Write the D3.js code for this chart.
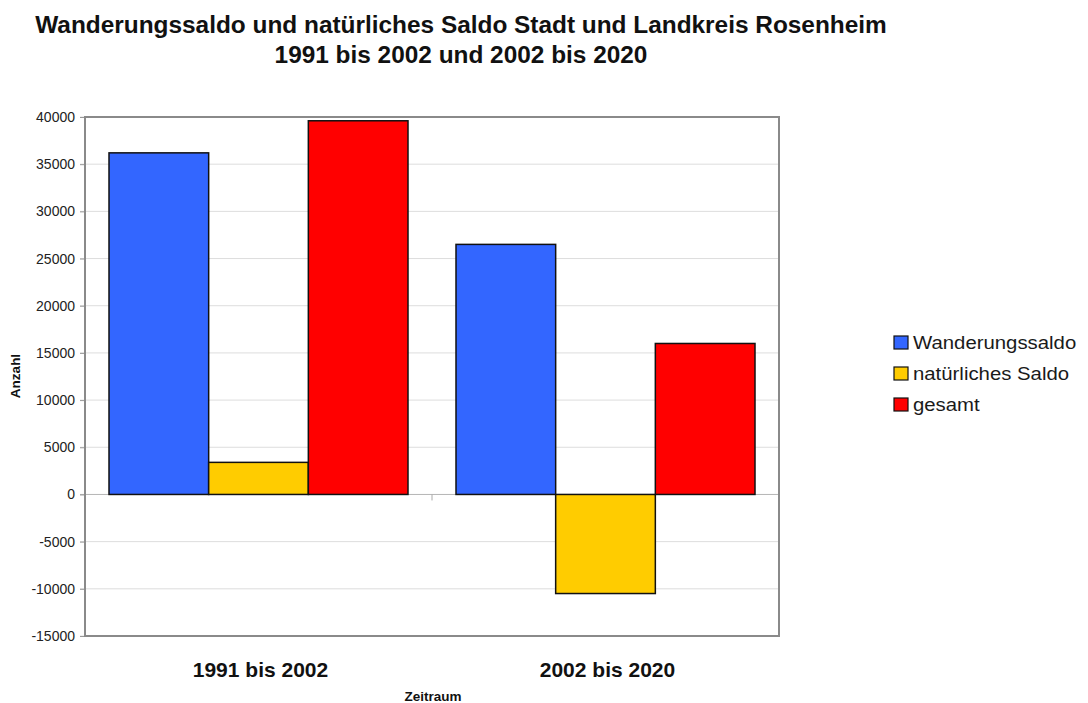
<!DOCTYPE html>
<html><head><meta charset="utf-8">
<script src="https://cdn.jsdelivr.net/npm/d3@7"></script>
<style>body{margin:0;background:#fff;} svg{display:block;font-family:"Liberation Sans",Arial,sans-serif;}</style>
</head><body>
<svg id="c" width="1088" height="703"></svg>
<script>
const categories = ["1991 bis 2002", "2002 bis 2020"];
const seriesNames = ["Wanderungssaldo", "natürliches Saldo", "gesamt"];
const wanderungssaldo = [36200, 26500];
const natuerlichesSaldo = [3400, -10500];
const gesamt = [39600, 16000];
const yTicks = [-15000, -10000, -5000, 0, 5000, 10000, 15000, 20000, 25000, 30000, 35000, 40000];
const colors = ["#3366FF", "#FFCC00", "#FF0000"];

const seriesValues = [wanderungssaldo, natuerlichesSaldo, gesamt];
const data = categories.map((c, i) => ({cat: c, vals: seriesNames.map((s, j) => ({s, v: seriesValues[j][i], j}))}));

const svg = d3.select("#c");
const L = 85, R = 779, T = 117, B = 636;

const y = d3.scaleLinear().domain([-15000, 40000]).range([B, T]);
const x0 = d3.scaleBand().domain(categories).range([L, R]);
const x1 = d3.scaleBand().domain(seriesNames).range([24, x0.bandwidth() - 24]);

// title
const title = svg.append("g").attr("font-weight", "bold").attr("font-size", 24.4).attr("fill", "#111").attr("text-anchor", "middle");
title.append("text").attr("x", 461).attr("y", 33).text("Wanderungssaldo und natürliches Saldo Stadt und Landkreis Rosenheim");
title.append("text").attr("x", 461).attr("y", 63).text("1991 bis 2002 und 2002 bis 2020");

// gridlines
svg.append("g").selectAll("line").data(yTicks).join("line")
  .attr("x1", L - 5).attr("x2", R).attr("y1", d => y(d)).attr("y2", d => y(d))
  .attr("stroke", d => d === 0 ? "#b5b5b5" : "#dddddd").attr("stroke-width", 1);

// y axis labels
const yAxis = svg.append("g").attr("transform", `translate(${L},0)`)
  .call(d3.axisLeft(y).tickValues(yTicks).tickSize(5).tickPadding(5).tickFormat(d => String(d)));
yAxis.select(".domain").remove();
yAxis.selectAll("line").attr("stroke", "#999");
yAxis.selectAll("text").attr("font-size", 14).attr("fill", "#222").attr("font-family", "Liberation Sans, Arial, sans-serif");

// bars
const g = svg.append("g").selectAll("g").data(data).join("g").attr("transform", d => `translate(${x0(d.cat)},0)`);
g.selectAll("rect").data(d => d.vals).join("rect")
  .attr("x", d => x1(d.s)).attr("width", x1.bandwidth())
  .attr("y", d => y(Math.max(0, d.v))).attr("height", d => Math.abs(y(d.v) - y(0)))
  .attr("fill", d => colors[d.j]).attr("stroke", "#111").attr("stroke-width", 1.5);

// category tick at zero line
svg.append("line").attr("x1", x0(categories[1])).attr("x2", x0(categories[1]))
  .attr("y1", y(0)).attr("y2", y(0) + 6).attr("stroke", "#aaa");

// plot border
svg.append("rect").attr("x", L).attr("y", T).attr("width", R - L).attr("height", B - T)
  .attr("fill", "none").attr("stroke", "#8a8a8a").attr("stroke-width", 2);

// category labels
svg.append("g").selectAll("text").data(categories).join("text")
  .attr("x", d => x0(d) + x0.bandwidth() / 2 + 2).attr("y", 677)
  .attr("text-anchor", "middle").attr("font-weight", "bold").attr("font-size", 21).attr("fill", "#111").text(d => d);

// axis titles
svg.append("text").attr("x", 433).attr("y", 701).attr("text-anchor", "middle")
  .attr("font-weight", "bold").attr("font-size", 13.5).attr("fill", "#111").text("Zeitraum");
svg.append("text").attr("transform", "translate(20,376) rotate(-90)").attr("text-anchor", "middle")
  .attr("font-weight", "bold").attr("font-size", 13.5).attr("fill", "#111").text("Anzahl");

// legend
const lg = svg.append("g").selectAll("g").data(seriesNames).join("g")
  .attr("transform", (d, i) => `translate(894,${336 + i * 31})`);
lg.append("rect").attr("width", 14).attr("height", 13).attr("fill", (d, i) => colors[i]).attr("stroke", "#111").attr("stroke-width", 1.2);
lg.append("text").attr("transform", "translate(19,13) scale(1.1,1)").attr("font-size", 18.5).attr("fill", "#1a1a1a").text(d => d);
</script>
</body></html>
